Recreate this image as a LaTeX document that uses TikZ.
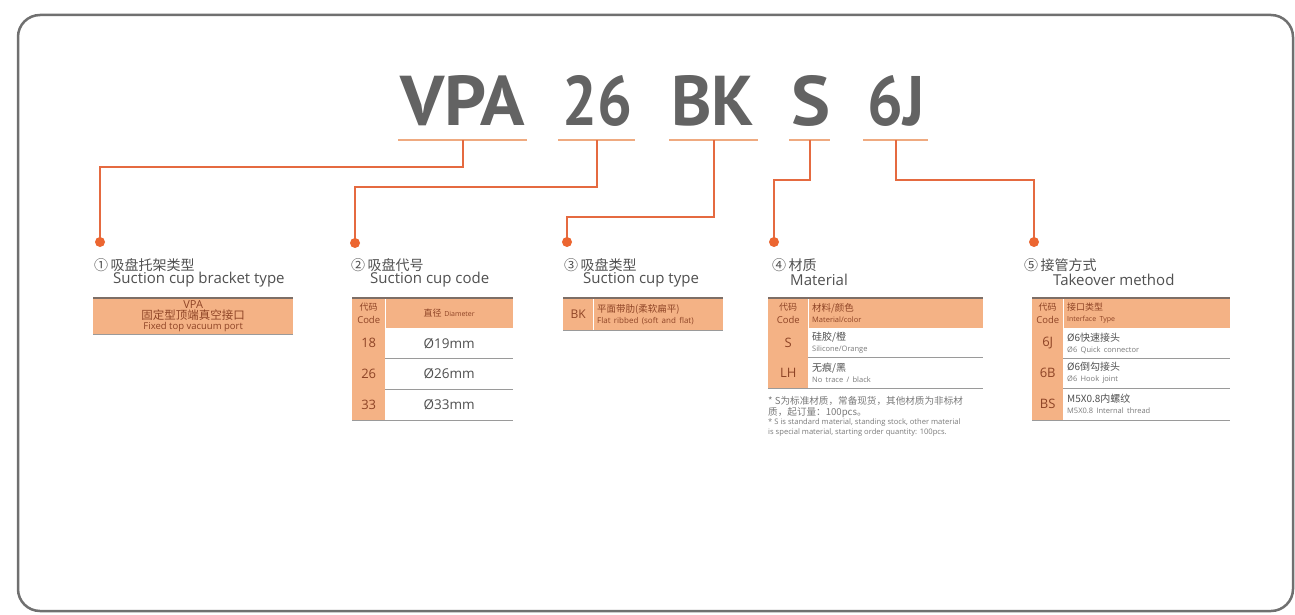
\documentclass[tikz,border=0pt]{standalone}
\usepackage{fontspec}
\usepackage{graphicx}
\setmainfont{Open Sans}
\newfontfamily\cjk{Noto Sans CJK SC}
\newfontfamily\codefont{PT Sans}
\definecolor{codegray}{HTML}{636363}
\definecolor{ulcol}{HTML}{EFAA80}
\definecolor{conncol}{HTML}{E56A40}
\definecolor{dotcol}{HTML}{EC6631}
\definecolor{tblor}{HTML}{F4B285}
\definecolor{tbltext}{HTML}{8E4426}
\definecolor{txtgray}{HTML}{505050}
\definecolor{lightgray}{HTML}{7A7A7A}
\definecolor{toplinecol}{HTML}{7D6E66}
\definecolor{sepgray}{HTML}{9A9A9A}
\definecolor{framecol}{HTML}{707070}
\newcommand{\fs}[1]{\fontsize{#1}{#1}\selectfont}
\begin{document}
\begin{tikzpicture}[x=1pt,y=-1pt,
  frame/.style={draw=framecol, line width=2.5pt, rounded corners=22pt},
  codeword/.style={inner sep=0pt, anchor=base west, text=codegray, font=\codefont\bfseries},
  uline/.style={fill=ulcol, inner sep=0pt, minimum height=2pt, anchor=west},
  conn/.style={draw=conncol, line width=1.8pt},
  dotn/.style={circle, fill=dotcol, minimum size=10pt, inner sep=0pt},
  cntitle/.style={anchor=west, inner sep=0pt, text=txtgray, font=\cjk\fontsize{14}{16}\selectfont},
  entitle/.style={anchor=west, inner sep=0pt, text=txtgray, font=\fontsize{15}{17}\selectfont},
  ocell/.style={fill=tblor, inner sep=0pt, anchor=north west, align=center, text=tbltext},
  wcell/.style={fill=white, inner sep=0pt, anchor=north west, align=center, text=txtgray},
  lcell/.style={fill=tblor, inner xsep=4pt, inner ysep=0pt, anchor=north west, align=left, text=tbltext},
  lwcell/.style={fill=white, inner xsep=4pt, inner ysep=0pt, anchor=north west, align=left, text=txtgray},
  topl/.style={draw=toplinecol, line width=2pt},
  sepl/.style={draw=sepgray, line width=0.8pt},
  gapl/.style={draw=white, line width=1pt},
  note/.style={anchor=north west, inner sep=0pt, align=left, text=lightgray}
]
\useasboundingbox (0,0) rectangle (1295,615);
\fill[white] (0,0) rectangle (1295,615);
\draw[frame] (18,15) rectangle (1293,611);

% ---------- code words ----------
\node[codeword] (c1) at (400,125) {\resizebox{125pt}{50pt}{VPA}};
\node[codeword] (c2) at (562,125) {\resizebox{70pt}{50pt}{26}};
\node[codeword] (c3) at (671,125) {\resizebox{83pt}{50pt}{BK}};
\node[codeword] (c4) at (791,125) {\resizebox{39pt}{50pt}{S}};
\node[codeword] (c5) at (867,125) {\resizebox{57pt}{50pt}{6J}};

\node[uline, minimum width=129pt] (u1) at (398,140) {};
\node[uline, minimum width=77pt] (u2) at (558,140) {};
\node[uline, minimum width=89pt] (u3) at (669,140) {};
\node[uline, minimum width=41pt] (u4) at (789,140) {};
\node[uline, minimum width=65pt] (u5) at (863,140) {};

% ---------- connectors and dots ----------
\coordinate (h1) at (100,167);
\coordinate (h2) at (355,187);
\coordinate (h3) at (567,217);
\coordinate (h4) at (774,180);
\coordinate (h5) at (1034,180);
\coordinate (p1) at (100,242);
\coordinate (p2) at (355,243);
\coordinate (p3) at (567,242);
\coordinate (p4) at (774,242);
\coordinate (p5) at (1034,242);
\draw[conn] (u1.center) |- (h1) -- (p1);
\draw[conn] (u2.center) |- (h2) -- (p2);
\draw[conn] (u3.center) |- (h3) -- (p3);
\draw[conn] (u4.center) |- (h4) -- (p4);
\draw[conn] (u5.center) |- (h5) -- (p5);
\node[dotn] (d1) at (p1) {};
\node[dotn] (d2) at (p2) {};
\node[dotn] (d3) at (p3) {};
\node[dotn] (d4) at (p4) {};
\node[dotn] (d5) at (p5) {};

% ---------- titles ----------
\node[cntitle] (n1) at (94,265) {①\,吸盘托架类型};
\node[entitle] (e1) at (113,280) {Suction cup bracket type};
\node[cntitle] (n2) at (351,265) {②\,吸盘代号};
\node[entitle] (e2) at (370,280) {Suction cup code};
\node[cntitle] (n3) at (564,265) {③\,吸盘类型};
\node[entitle] (e3) at (583,280) {Suction cup type};
\node[cntitle] (n4) at (772,265) {④\,材质};
\node[entitle] (e4) at (790,280) {Material};
\node[cntitle] (n5) at (1024,265) {⑤\,接管方式};
\node[entitle] (e5) at (1053,280) {Takeover method};

% ---------- table 1 ----------
\node[ocell, minimum width=200pt, minimum height=36pt] (t1) at (93,298)
  {{\fs{11}VPA}\\[-1pt]{\cjk\fs{11.5}固定型顶端真空接口}\\[-1.5pt]{\fs{9.5}Fixed top vacuum port}};
\draw[topl] (t1.north west) -- (t1.north east);
\draw[sepl] (t1.south west) -- (t1.south east);

% ---------- table 2 ----------
\node[ocell, minimum width=33pt, minimum height=30pt] (t2h1) at (352,298) {{\cjk\fs{9}代码}\\[1pt]{\fs{9.5}Code}};
\node[ocell, minimum width=128pt, minimum height=30pt] (t2h2) at (385,298) {{\cjk\fs{9}直径} {\fs{7}Diameter}};
\node[ocell, minimum width=33pt, minimum height=30pt] (t2a1) at (352,328) {\fs{13}18};
\node[wcell, minimum width=128pt, minimum height=30pt] (t2a2) at (385,328) {\fs{13.5}Ø19mm};
\node[ocell, minimum width=33pt, minimum height=31pt] (t2b1) at (352,358) {\fs{13}26};
\node[wcell, minimum width=128pt, minimum height=31pt] (t2b2) at (385,358) {\fs{13.5}Ø26mm};
\node[ocell, minimum width=33pt, minimum height=31pt] (t2c1) at (352,389) {\fs{13}33};
\node[wcell, minimum width=128pt, minimum height=31pt] (t2c2) at (385,389) {\fs{13.5}Ø33mm};
\draw[gapl] (t2h2.north west) -- (t2h2.south west);
\draw[topl] (t2h1.north west) -- (t2h2.north east);
\draw[sepl] (t2a2.south west) -- (t2a2.south east);
\draw[sepl] (t2b2.south west) -- (t2b2.south east);
\draw[sepl] (t2c1.south west) -- (t2c2.south east);

% ---------- table 3 ----------
\node[ocell, minimum width=30pt, minimum height=32pt] (t3a) at (563,298) {\fs{12}BK};
\node[lcell, text width=122pt, minimum height=32pt] (t3b) at (593,298)
  {{\cjk\fs{9.5}平面带肋(柔软扁平)}\\[-1pt]{\fs{8}Flat ribbed (soft and flat)}};
\draw[gapl] (t3b.north west) -- (t3b.south west);
\draw[topl] (t3a.north west) -- (t3b.north east);
\draw[sepl] (t3a.south west) -- (t3b.south east);

% ---------- table 4 ----------
\node[ocell, minimum width=40pt, minimum height=30pt] (t4h1) at (768,298) {{\cjk\fs{9}代码}\\[1pt]{\fs{9.5}Code}};
\node[lcell, text width=167pt, minimum height=30pt] (t4h2) at (808,298)
  {{\cjk\fs{9.5}材料/颜色}\\[-1pt]{\fs{7.5}Material/color}};
\node[ocell, minimum width=40pt, minimum height=29pt] (t4a1) at (768,328) {\fs{13}S};
\node[lwcell, text width=167pt, minimum height=29pt] (t4a2) at (808,328)
  {{\cjk\fs{10}硅胶/橙}\\[-1pt]{\color{lightgray}\fs{7.5}Silicone/Orange}};
\node[ocell, minimum width=40pt, minimum height=31pt] (t4b1) at (768,357) {\fs{13}LH};
\node[lwcell, text width=167pt, minimum height=31pt] (t4b2) at (808,357)
  {{\cjk\fs{10}无痕/黑}\\[-1pt]{\color{lightgray}\fs{7.5}No trace / black}};
\draw[gapl] (t4h2.north west) -- (t4h2.south west);
\draw[topl] (t4h1.north west) -- (t4h2.north east);
\draw[sepl] (t4a2.south west) -- (t4a2.south east);
\draw[sepl] (t4b1.south west) -- (t4b2.south east);
\node[note, font=\cjk\fontsize{9.6}{11}\selectfont] (nt1) at (768,396)
  {* S为标准材质，常备现货，其他材质为非标材\\质，起订量：100pcs。};
\node[note, font=\fontsize{7.6}{10}\selectfont] (nt2) at (768,419)
  {* S is standard material, standing stock, other material\\is special material, starting order quantity: 100pcs.};

% ---------- table 5 ----------
\node[ocell, minimum width=31pt, minimum height=30pt] (t5h1) at (1032,298) {{\cjk\fs{9}代码}\\[1pt]{\fs{9.5}Code}};
\node[lcell, text width=159pt, minimum height=30pt] (t5h2) at (1063,298)
  {{\cjk\fs{9}接口类型}\\[-1pt]{\fs{7}Interface Type}};
\node[ocell, minimum width=31pt, minimum height=30pt] (t5a1) at (1032,328) {\fs{13}6J};
\node[lwcell, text width=159pt, minimum height=30pt] (t5a2) at (1063,328)
  {{\cjk\fs{10}Ø6快速接头}\\[-1pt]{\color{lightgray}\fs{7.5}Ø6 Quick connector}};
\node[ocell, minimum width=31pt, minimum height=30pt] (t5b1) at (1032,358) {\fs{13}6B};
\node[lwcell, text width=159pt, minimum height=30pt] (t5b2) at (1063,358)
  {{\cjk\fs{10}Ø6倒勾接头}\\[-1pt]{\color{lightgray}\fs{7.5}Ø6 Hook joint}};
\node[ocell, minimum width=31pt, minimum height=32pt] (t5c1) at (1032,388) {\fs{13}BS};
\node[lwcell, text width=159pt, minimum height=32pt] (t5c2) at (1063,388)
  {{\cjk\fs{10}M5X0.8内螺纹}\\[-1pt]{\color{lightgray}\fs{7.5}M5X0.8 Internal thread}};
\draw[gapl] (t5h2.north west) -- (t5h2.south west);
\draw[topl] (t5h1.north west) -- (t5h2.north east);
\draw[sepl] (t5a2.south west) -- (t5a2.south east);
\draw[sepl] (t5b2.south west) -- (t5b2.south east);
\draw[sepl] (t5c1.south west) -- (t5c2.south east);
\end{tikzpicture}
\end{document}
